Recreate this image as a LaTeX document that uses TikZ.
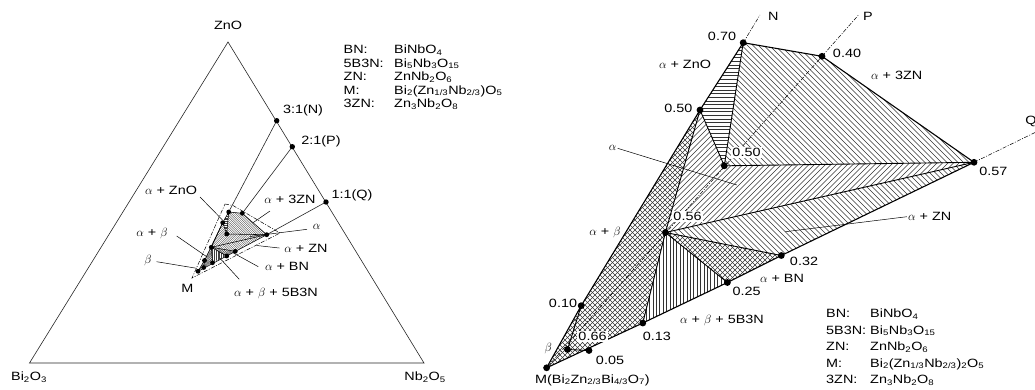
\documentclass[tikz,border=0pt]{standalone}
\usepackage{fontspec}
\setmainfont[FakeStretch=1.2]{Liberation Sans}

\tikzset{
  lbl/.style={font=\fontsize{12}{14}\selectfont, inner sep=1pt},
  wlbl/.style={lbl, fill=white},
  triedge/.style={line width=0.6pt, black!85},
  boundln/.style={line width=1.1pt},
  innerln/.style={line width=0.9pt},
  minnerln/.style={line width=0.55pt},
  leader/.style={line width=0.5pt},
  dashdot/.style={line width=0.5pt, dash pattern=on 4pt off 1.5pt on 1pt off 1.5pt},
  hatchln/.style={line width=0.45pt, black!80},
  mhatchln/.style={line width=0.3pt, black!75},
}

% hatchings: #1 = spacing, #2 = closed path to clip to
\newcommand{\hatchNE}[3][hatchln]{\begin{scope}\clip #3;
  \foreach \c in {0,#2,...,1500} \draw[#1] (\c,0) -- ++(-420,420);\end{scope}}
\newcommand{\hatchNW}[3][hatchln]{\begin{scope}\clip #3;
  \foreach \c in {0,#2,...,1500} \draw[#1] (\c-420,0) -- ++(420,420);\end{scope}}
\newcommand{\hatchH}[3][hatchln]{\begin{scope}\clip #3;
  \foreach \c in {0,#2,...,389} \draw[#1] (0,\c) -- (1035,\c);\end{scope}}
\newcommand{\hatchV}[3][hatchln]{\begin{scope}\clip #3;
  \foreach \c in {0,#2,...,1035} \draw[#1] (\c,0) -- (\c,389);\end{scope}}
\newcommand{\hatchX}[3][hatchln]{\hatchNE[#1]{#2}{#3}\hatchNW[#1]{#2}{#3}}

\begin{document}
\begin{tikzpicture}[x=1pt,y=-1pt]
  \useasboundingbox (0,0) rectangle (1035,389);

  %%% left: ternary triangle
  \coordinate (ZnO) at (228,42);
  \coordinate (BiO) at (29.5,363);
  \coordinate (NbO) at (424,363);
  \coordinate (Npt) at (276.7,120.7);
  \coordinate (Ppt) at (292.3,146.7);
  \coordinate (Qpt) at (326,202);
  \draw[triedge] (ZnO) -- (BiO) -- (NbO) -- cycle;
  \node[lbl] (lZnO) at (228,25) {ZnO};
  \node[lbl] (lBiO) at (29,377) {Bi\textsubscript{2}O\textsubscript{3}};
  \node[lbl] (lNbO) at (425,377) {Nb\textsubscript{2}O\textsubscript{5}};
  \node[lbl] (lN) at (303,110) {3:1(N)};
  \node[lbl] (lP) at (321,141.3) {2:1(P)};
  \node[lbl] (lQ) at (352,195) {1:1(Q)};

  % small region
  \coordinate (m70) at (228.7,212);
  \coordinate (m40) at (242.3,213.3);
  \coordinate (m57) at (266.7,234.7);
  \coordinate (m50u) at (222.7,222.7);
  \coordinate (m50i) at (226.7,234);
  \coordinate (m56) at (211.3,247.3);
  \coordinate (m32) at (235.3,251.3);
  \coordinate (m25) at (226.7,256);
  \coordinate (m13) at (212.5,262.7);
  \coordinate (m10) at (204.5,260.5);
  \coordinate (m66) at (203.7,267.5);
  \coordinate (mM) at (198,271.3);
  \hatchH[mhatchln]{1.8}{(m70) -- (m50u) -- (m50i) -- cycle}
  \hatchNW[mhatchln]{2.2}{(m70) -- (m40) -- (m57) -- (m50i) -- cycle}
  \hatchNE[mhatchln]{2.2}{(m50u) -- (m50i) -- (m57) -- (m56) -- cycle}
  \hatchNW[mhatchln]{2.2}{(m56) -- (m57) -- (m32) -- cycle}
  \hatchX[mhatchln]{2.2}{(m56) -- (m32) -- (m25) -- cycle}
  \hatchV[mhatchln]{1.8}{(m56) -- (m25) -- (m13) -- cycle}
  \hatchX[mhatchln]{2.2}{(m50u) -- (m56) -- (m13) -- (mM) -- (m10) -- cycle}
  \draw[minnerln] (mM) -- (m10) -- (m50u) -- (m70) -- (m40) -- (m57) -- cycle;
  \draw[minnerln] (m70) -- (m50i) -- (m57) (m50u) -- (m50i) (m50u) -- (m56) -- (m13)
    (m56) -- (m57) (m56) -- (m32) (m56) -- (m25) (m10) -- (m66);
  \draw[triedge] (Npt) -- (m70) (Ppt) -- (m40) (Qpt) -- (m57);
  \foreach \p in {Npt,Ppt,Qpt} \fill (\p) circle (2.7pt);
  \foreach \p in {m70,m40,m57,m50u,m50i,m56,m32,m25,m13,m10,m66,mM}
    \fill (\p) circle (2.4pt);
  % dash-dot envelope
  \coordinate (env1) at (225,204);
  \coordinate (env2) at (233,205.5);
  \coordinate (env3) at (280,233);
  \coordinate (env4) at (192,278);
  \draw[dashdot] (env1) -- (env2) -- (env3) -- (env4) -- cycle;

  % labels with leaders
  \node[lbl] (saZnO) at (171,190.5) {$\alpha$ + ZnO};
  \node[lbl] (sa3ZN) at (290,199.5) {$\alpha$ + 3ZN};
  \node[lbl] (salpha) at (316.7,227.3) {$\alpha$};
  \node[lbl] (saZN) at (306,248.3) {$\alpha$ + ZN};
  \node[lbl] (saBN) at (287,266.7) {$\alpha$ + BN};
  \node[lbl] (sab5) at (276,293.3) {$\alpha$ + $\beta$ + 5B3N};
  \node[lbl] (sab) at (152,233.3) {$\alpha$ + $\beta$};
  \node[lbl] (sbeta) at (148,260) {$\beta$};
  \node[lbl] (sM) at (187.3,288.3) {M};
  \coordinate (szA) at (200,197);   \coordinate (szB) at (222.5,220);
  \coordinate (s3A) at (270,211);   \coordinate (s3B) at (253,222.7);
  \coordinate (saA) at (307,229.3); \coordinate (saB) at (250,236.5);
  \coordinate (snA) at (279.3,248); \coordinate (snB) at (256.7,245.5);
  \coordinate (sbA) at (258.3,266.7); \coordinate (sbB) at (232.5,252.5);
  \coordinate (s5A) at (239.3,279.3); \coordinate (s5B) at (220,258.3);
  \coordinate (sabA) at (176.7,236); \coordinate (sabB) at (206.7,256.7);
  \coordinate (sbtA) at (156.7,261.7); \coordinate (sbtB) at (196.7,268.3);
  \draw[leader] (szA) -- (szB) (s3A) -- (s3B) (saA) -- (saB) (snA) -- (snB)
    (sbA) -- (sbB) (s5A) -- (s5B) (sabA) -- (sabB) (sbtA) -- (sbtB);

  % key
  \foreach \k/\f [count=\i] in {BN:/{BiNbO\textsubscript{4}},
      5B3N:/{Bi\textsubscript{5}Nb\textsubscript{3}O\textsubscript{15}},
      ZN:/{ZnNb\textsubscript{2}O\textsubscript{6}},
      M:/{Bi\textsubscript{2}(Zn\textsubscript{1/3}Nb\textsubscript{2/3})O\textsubscript{5}},
      3ZN:/{Zn\textsubscript{3}Nb\textsubscript{2}O\textsubscript{8}}} {
    \node[lbl, anchor=base west] (keyL\i) at (342.5,{53.5+13.5*(\i-1)}) {\k};
    \node[lbl, anchor=base west] (forL\i) at (393,{53.5+13.5*(\i-1)}) {\f};
  }

  %%% right: enlarged region
  \coordinate (p70) at (743.2,42.7);
  \coordinate (p40) at (822,56.3);
  \coordinate (p57) at (974,162.3);
  \coordinate (p50u) at (700,110);
  \coordinate (p50i) at (724.3,165.8);
  \coordinate (p56) at (665.4,232.5);
  \coordinate (p32) at (781.3,255.5);
  \coordinate (p25) at (727.4,282.5);
  \coordinate (p13) at (642.8,323);
  \coordinate (p10) at (581.2,305.7);
  \coordinate (p66) at (567.5,349.5);
  \coordinate (p05) at (589,350.5);
  \coordinate (pM) at (546.6,367.8);
  \coordinate (Nend) at (760,15);
  \coordinate (Pend) at (858.5,15);
  \coordinate (Qend) at (1035,132.5);

  \hatchH{3.6}{(p70) -- (p50u) -- (p50i) -- cycle}
  \hatchNW{5.5}{(p70) -- (p40) -- (p57) -- (p50i) -- cycle}
  \hatchNE{5.5}{(p50u) -- (p50i) -- (p57) -- (p56) -- cycle}
  \hatchNW{5.5}{(p56) -- (p57) -- (p32) -- cycle}
  \hatchX{5}{(p56) -- (p32) -- (p25) -- cycle}
  \hatchV{3.4}{(p56) -- (p25) -- (p13) -- cycle}
  \hatchX{5}{(p50u) -- (p56) -- (p13) -- (pM) -- (p10) -- cycle}

  \draw[dashdot] (pM) -- (Pend) (p70) -- (Nend) (p57) -- (Qend);
  \draw[boundln, line join=round] (pM) -- (p10) -- (p50u) -- (p70) -- (p40) -- (p57)
    -- (p32) -- (p25) -- (p13) -- cycle;
  \draw[innerln] (p70) -- (p50i) -- (p57) (p50u) -- (p50i) (p50u) -- (p56) -- (p13)
    (p56) -- (p57) (p56) -- (p32) (p56) -- (p25) (p10) -- (p66) -- (p05);
  \foreach \p in {p70,p40,p57,p50u,p50i,p56,p32,p25,p13,p10,p66,p05,pM}
    \fill (\p) circle (3.4pt);

  \node[lbl] (l70) at (722,36) {0.70};
  \node[lbl] (l40) at (847,53.3) {0.40};
  \node[lbl] (laZnO) at (685,64.3) {$\alpha$ + ZnO};
  \node[lbl] (la3ZN) at (896.7,75) {$\alpha$ + 3ZN};
  \node[lbl] (l50u) at (678.3,108.3) {0.50};
  \node[wlbl] (l50i) at (746.5,152.7) {0.50};
  \node[lbl] (lalpha) at (612.7,148.3) {$\alpha$};
  \node[lbl] (l57) at (993.3,171.7) {0.57};
  \node[wlbl] (l56) at (687.5,216.7) {0.56};
  \node[lbl] (laZN) at (929.7,216.7) {$\alpha$ + ZN};
  \node[lbl] (lab) at (605,232) {$\alpha$ + $\beta$};
  \node[lbl] (l32) at (804,261.3) {0.32};
  \node[lbl] (laBN) at (782,278.8) {$\alpha$ + BN};
  \node[lbl] (l25) at (746.6,291.3) {0.25};
  \node[lbl] (l10) at (563,303.3) {0.10};
  \node[lbl] (lab5) at (722,320) {$\alpha$ + $\beta$ + 5B3N};
  \node[lbl] (l13) at (656.8,336.5) {0.13};
  \node[wlbl] (l66) at (592.5,336.7) {0.66};
  \node[lbl] (l05) at (610,360) {0.05};
  \node[lbl] (lbeta) at (548.3,348.3) {$\beta$};
  \node[lbl, anchor=west] (lM) at (534,380)
    {M(Bi\textsubscript{2}Zn\textsubscript{2/3}Bi\textsubscript{4/3}O\textsubscript{7})};
  \node[lbl] (lNN) at (773.3,16.7) {N};
  \node[lbl] (lPP) at (868,16.7) {P};
  \node[lbl] (lQQ) at (1031,121.7) {Q};

  \coordinate (alphaEnd) at (736.8,185);
  \coordinate (aZNEnd) at (785.4,231.7);
  \draw[leader] (lalpha.east) -- (alphaEnd);
  \draw[leader] (laZN.west) -- (aZNEnd);

  % key
  \foreach \k/\f [count=\i] in {BN:/{BiNbO\textsubscript{4}},
      5B3N:/{Bi\textsubscript{5}Nb\textsubscript{3}O\textsubscript{15}},
      ZN:/{ZnNb\textsubscript{2}O\textsubscript{6}},
      M:/{Bi\textsubscript{2}(Zn\textsubscript{1/3}Nb\textsubscript{2/3})\textsubscript{2}O\textsubscript{5}},
      3ZN:/{Zn\textsubscript{3}Nb\textsubscript{2}O\textsubscript{8}}} {
    \node[lbl, anchor=base west] (keyR\i) at (825,{317.5+16.5*(\i-1)}) {\k};
    \node[lbl, anchor=base west] (forR\i) at (869,{317.5+16.5*(\i-1)}) {\f};
  }
\end{tikzpicture}
\end{document}
